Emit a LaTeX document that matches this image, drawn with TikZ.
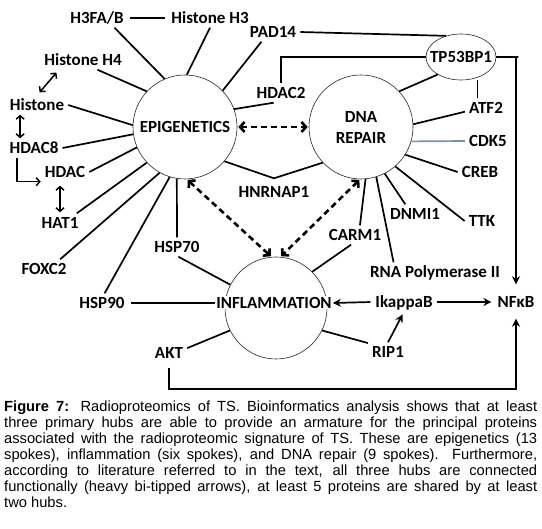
\documentclass[tikz,border=0pt]{standalone}
\usepackage{fontspec}
\setmainfont{Liberation Sans}
\newfontfamily\labfont{Carlito}
\usetikzlibrary{arrows.meta,calc,shapes.geometric}
\definecolor{cdkblue}{RGB}{110,145,190}
\begin{document}
\begin{tikzpicture}[x=1pt,y=-1pt,
  labf/.style={font=\labfont\bfseries\fontsize{17}{20}\selectfont},
  lab/.style={labf, inner sep=4pt, text height=11pt, text depth=0pt},
  hub/.style={labf, circle, draw=black!85, line width=0.6pt, inner sep=0pt, align=center},
  spoke/.style={line width=1.7pt},
  dbl/.style={line width=2.6pt, dash pattern=on 6pt off 4pt, shorten <=1pt, shorten >=1pt,
     {Straight Barb[length=4.5pt,width=10pt]}-{Straight Barb[length=4.5pt,width=10pt]}},
  sarr/.style={line width=1.7pt, -{Stealth[length=8pt,width=8pt]}},
  larr/.style={line width=1.5pt, {Straight Barb[length=3.5pt,width=8pt]}-{Straight Barb[length=3.5pt,width=8pt]}},
  rarr/.style={line width=1.5pt, -{Straight Barb[length=3.5pt,width=8pt]}}
]
\useasboundingbox (0,0) rectangle (542,529);
% hubs
\node[hub, minimum size=104pt] (epi) at (185,127) {EPIGENETICS};
\node[hub, minimum size=104pt] (dna) at (361,127) {DNA\\[1pt]REPAIR};
\node[hub, minimum size=102pt] (infl) at (276,308) {};
\node[lab, fill=white, inner sep=1pt] (inflt) at (274,303) {INFLAMMATION};
\node[draw=black!85, ellipse, line width=0.6pt, minimum width=70pt, minimum height=46pt, inner sep=0pt] (tp) at (461,57) {};
\node[lab, inner sep=0pt] (tpt) at (tp.center) {TP53BP1};
% labels
\node[lab] (h3fa) at (97,18) {H3FA/B};
\node[lab] (hh3) at (210,18) {Histone H3};
\node[lab] (pad) at (273,32) {PAD14};
\node[lab] (hh4) at (83,60) {Histone H4};
\node[lab] (hist) at (37,105) {Histone};
\node[lab] (hdac8) at (34,148) {HDAC8};
\node[lab] (hdac) at (65,172) {HDAC};
\node[lab] (hat1) at (60,223) {HAT1};
\node[lab] (foxc2) at (44,269) {FOXC2};
\node[lab] (hsp90) at (102,303) {HSP90};
\node[lab] (hsp70) at (177,247) {HSP70};
\node[lab] (akt) at (169,353) {AKT};
\node[lab] (hdac2) at (281,93) {HDAC2};
\node[lab] (hn) at (274,192) {HNRNAP1};
\node[lab] (carm1) at (355,235) {CARM1};
\node[lab] (rnap) at (435,272) {RNA Polymerase II};
\node[lab] (dnmi1) at (415,214) {DNMI1};
\node[lab] (ttk) at (482,221) {TTK};
\node[lab] (atf2) at (486,108) {ATF2};
\node[lab] (cdk5) at (488,141) {CDK5};
\node[lab] (creb) at (480,172) {CREB};
\node[lab] (ikb) at (404,302) {IkappaB};
\node[lab] (nfkb) at (516,302) {NFκB};
\node[lab] (rip1) at (388,352) {RIP1};
% helper coordinates on labels
\coordinate (a2) at ($(atf2.north west)!0.3!(atf2.north east)$);
\coordinate (hx) at ($(hist.south west)!0.23!(hist.south east)$);
\coordinate (h8) at ($(hdac8.south west)!0.2!(hdac8.south east)$);
\coordinate (h4) at ($(hh4.south west)!0.22!(hh4.south east)$);
\coordinate (rn) at ($(rnap.north west)!0.2!(rnap.north east)$);
\coordinate (hv) at ($(hn.north)+(0,-4)$);
% spokes
\begin{scope}[spoke]
\draw[shorten <=2pt, shorten >=2pt] (h3fa.east) -- (hh3.west);
\draw (h3fa.-29) -- (epi.113);
\draw (hh3.south) -- (epi.88);
\draw (pad.220) -- (epi.44);
\draw (pad.east) -- (tp.125);
\draw (hh4.-34) -- (epi.137);
\draw (hist.east) -- (epi.178);
\draw (hdac8.east) -- (epi.188);
\draw (hdac.east) -- (epi.203);
\draw (hat1.30) -- (epi.223);
\draw (foxc2.31) -- (epi.241);
\draw (hsp90.75) -- (epi.253);
\draw (hsp70.north) -- (epi.261);
\draw (hdac2.233) -- (epi.20);
\draw (hdac2.north) |- (tp.west);
\draw (epi.-41) -- (hv) -- (dna.223);
\draw (dna.43) -- (tp.217);
\draw (a2) -- (a2 |- tp.south);
\draw (dna.3) -- (atf2.190);
\draw[cdkblue] (dna.344) -- (cdk5.west);
\draw (dna.328) -- (creb.west);
\draw (dna.311) -- (ttk.west);
\draw (dna.297) -- (dnmi1.135);
\draw (dna.287) -- (rn);
\draw (dna.275) -- (carm1.63);
\draw (carm1.248) -- (infl.45);
\draw (hsp70.-82) -- (infl.153);
\draw[shorten <=2pt] (hsp90.east) -- (inflt.west);
\draw (akt.15) -- (infl.206);
\draw (rip1.156) -- (infl.334);
\end{scope}
% hub links
\draw[dbl] (epi) -- (dna);
\draw[dbl] (epi.272) -- (infl.95);
\draw[dbl] (dna.269) -- (infl.85);
% solid arrows
\draw[sarr, shorten <=1pt] (ikb.west) -- (inflt.east);
\draw[sarr, shorten >=2pt] (ikb.east) -- (nfkb.west);
\draw[sarr, shorten >=3pt] (rip1.north) -- (ikb.south);
\draw[sarr, shorten >=8pt] (tp.east) -- ++(22,0) -| (nfkb.north);
\draw[sarr, shorten >=7pt, shorten <=5pt] (akt.south) -- ++(0,26) -| (nfkb.south);
% left arrows
\draw[larr, shorten <=4pt, shorten >=4pt] (h4) -- (hist.north);
\draw[larr] (hx) -- (hx |- hdac8.north);
\draw[rarr] (h8) |- (hdac.south west);
\draw[larr, shorten <=1pt, shorten >=4pt] (hat1.north) -- (hat1.north |- hdac.south);
% caption
\node[anchor=north west, inner sep=0pt, text width=533pt, align=justify,
      font=\fontsize{14.7}{16.1}\selectfont] (cap) at (4,400.5)
 {\textbf{Figure 7:} Radioproteomics of TS. Bioinformatics analysis shows that at least\linebreak
  three primary hubs are able to provide an armature for the principal proteins\linebreak
  associated with the radioproteomic signature of TS. These are epigenetics (13\linebreak
  spokes), inflammation (six spokes), and DNA repair (9 spokes). Furthermore,\linebreak
  according to literature referred to in the text, all three hubs are connected\linebreak
  functionally (heavy bi-tipped arrows), at least 5 proteins are shared by at least\linebreak
  two hubs.};
\end{tikzpicture}
\end{document}
